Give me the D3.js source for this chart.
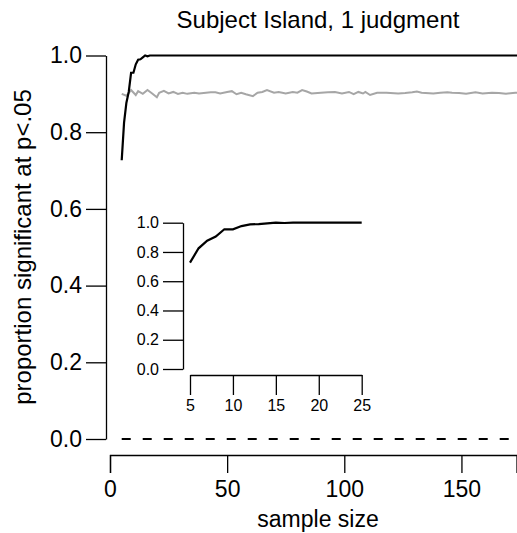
<!DOCTYPE html>
<html>
<head>
<meta charset="utf-8">
<script src="https://cdn.jsdelivr.net/npm/d3@7"></script>
<style>
body { margin: 0; background: #fff; }
svg { display: block; font-family: "Liberation Sans", Arial, sans-serif; }
.axis path, .axis line { stroke: #000; stroke-width: 1.3; }
.axis text { fill: #000; }
</style>
</head>
<body>
<svg id="chart" width="517" height="533"></svg>
<script>
// proportion significant at p<.05 by sample size
const blackSizes = [5, 6, 7, 8, 9, 10, 11, 12, 13, 14, 15, 16, 17, 18, 19, 20, 21, 22, 23, 24, 25, 175];
const blackValues = [0.727, 0.825, 0.877, 0.905, 0.955, 0.955, 0.977, 0.989, 0.99, 0.995, 1.0, 0.998, 1.0, 1.0, 1.0, 1.0, 1.0, 1.0, 1.0, 1.0, 1.0, 1.0];

const graySizes = [5, 7, 9, 11, 12, 14, 16, 18, 20, 21, 23, 25, 27, 29, 31, 33, 36, 38, 41, 43, 45, 47, 50, 52, 54, 56, 58, 61, 63, 65, 67, 70, 72, 75, 78, 80, 82, 84, 86, 90, 93, 96, 99, 102, 104, 106, 108, 109, 111, 114, 118, 123, 126, 129, 131, 133, 138, 141, 144, 146, 149, 152, 156, 159, 163, 166, 169, 173, 175];
const grayValues = [0.900, 0.895, 0.910, 0.897, 0.907, 0.900, 0.910, 0.901, 0.891, 0.903, 0.908, 0.901, 0.905, 0.900, 0.903, 0.900, 0.903, 0.901, 0.903, 0.904, 0.904, 0.901, 0.905, 0.907, 0.899, 0.903, 0.899, 0.894, 0.903, 0.905, 0.910, 0.903, 0.905, 0.901, 0.905, 0.903, 0.910, 0.906, 0.901, 0.903, 0.904, 0.905, 0.901, 0.905, 0.899, 0.905, 0.901, 0.905, 0.897, 0.903, 0.903, 0.901, 0.902, 0.904, 0.906, 0.903, 0.901, 0.903, 0.904, 0.903, 0.902, 0.900, 0.904, 0.901, 0.903, 0.902, 0.900, 0.903, 0.903];

const zeroSizes = [5, 175];
const zeroValues = [0, 0];

const xTicks = [0, 50, 100, 150];
const yTicks = [0, 0.2, 0.4, 0.6, 0.8, 1.0];
const insetXTicks = [5, 10, 15, 20, 25];
const insetYTicks = [0, 0.2, 0.4, 0.6, 0.8, 1.0];

const svg = d3.select("#chart");

// main panel
const x = d3.scaleLinear().domain([0, 173.5]).range([110, 516.5]);
const y = d3.scaleLinear().domain([0, 1]).range([439, 55.5]);

const line = d3.line().x(d => x(d[0])).y(d => y(d[1]));

svg.append("path")
	.datum(d3.zip(zeroSizes, zeroValues))
	.attr("fill", "none")
	.attr("stroke", "#000")
	.attr("stroke-width", 2)
	.attr("stroke-dasharray", "9,12")
	.attr("d", line);

svg.append("path")
	.datum(d3.zip(graySizes, grayValues))
	.attr("fill", "none")
	.attr("stroke", "#a6a6a6")
	.attr("stroke-width", 2)
	.attr("d", line);

svg.append("path")
	.datum(d3.zip(blackSizes, blackValues))
	.attr("fill", "none")
	.attr("stroke", "#000")
	.attr("stroke-width", 2.2)
	.attr("d", line);

svg.append("g")
	.attr("class", "axis")
	.attr("transform", "translate(0,455)")
	.call(d3.axisBottom(x).tickValues(xTicks).tickFormat(d3.format("d")).tickSizeInner(18).tickSizeOuter(18).tickPadding(8))
	.selectAll("text")
	.style("font-size", "23px");

svg.append("g")
	.attr("class", "axis")
	.attr("transform", "translate(106,0)")
	.call(d3.axisLeft(y).tickValues(yTicks).tickFormat(d3.format(".1f")).tickSizeInner(20).tickSizeOuter(0).tickPadding(4))
	.selectAll("text")
	.style("font-size", "23px");

svg.append("text")
	.attr("x", 318)
	.attr("y", 527)
	.attr("text-anchor", "middle")
	.style("font-size", "23px")
	.text("sample size");

svg.append("text")
	.attr("transform", "translate(31,247) rotate(-90)")
	.attr("text-anchor", "middle")
	.style("font-size", "24px")
	.text("proportion significant at p<.05");

svg.append("text")
	.attr("x", 318)
	.attr("y", 28)
	.attr("text-anchor", "middle")
	.style("font-size", "24px")
	.text("Subject Island, 1 judgment");

// inset panel
const ix = d3.scaleLinear().domain([5, 25]).range([190, 361.7]);
const iy = d3.scaleLinear().domain([0, 1]).range([369, 222.7]);

const insetLine = d3.line().x(d => ix(d[0])).y(d => iy(d[1]));

svg.append("path")
	.datum(d3.zip(blackSizes, blackValues).filter(d => d[0] <= 25))
	.attr("fill", "none")
	.attr("stroke", "#000")
	.attr("stroke-width", 2.2)
	.attr("d", insetLine);

svg.append("g")
	.attr("class", "axis")
	.attr("transform", "translate(0,375)")
	.call(d3.axisBottom(ix).tickValues(insetXTicks).tickSizeInner(20).tickSizeOuter(0).tickPadding(5))
	.selectAll("text")
	.style("font-size", "16px");

svg.append("g")
	.attr("class", "axis")
	.attr("transform", "translate(183,0)")
	.call(d3.axisLeft(iy).tickValues(insetYTicks).tickFormat(d3.format(".1f")).tickSizeInner(20).tickSizeOuter(0).tickPadding(4))
	.selectAll("text")
	.style("font-size", "16px");
</script>
</body>
</html>
